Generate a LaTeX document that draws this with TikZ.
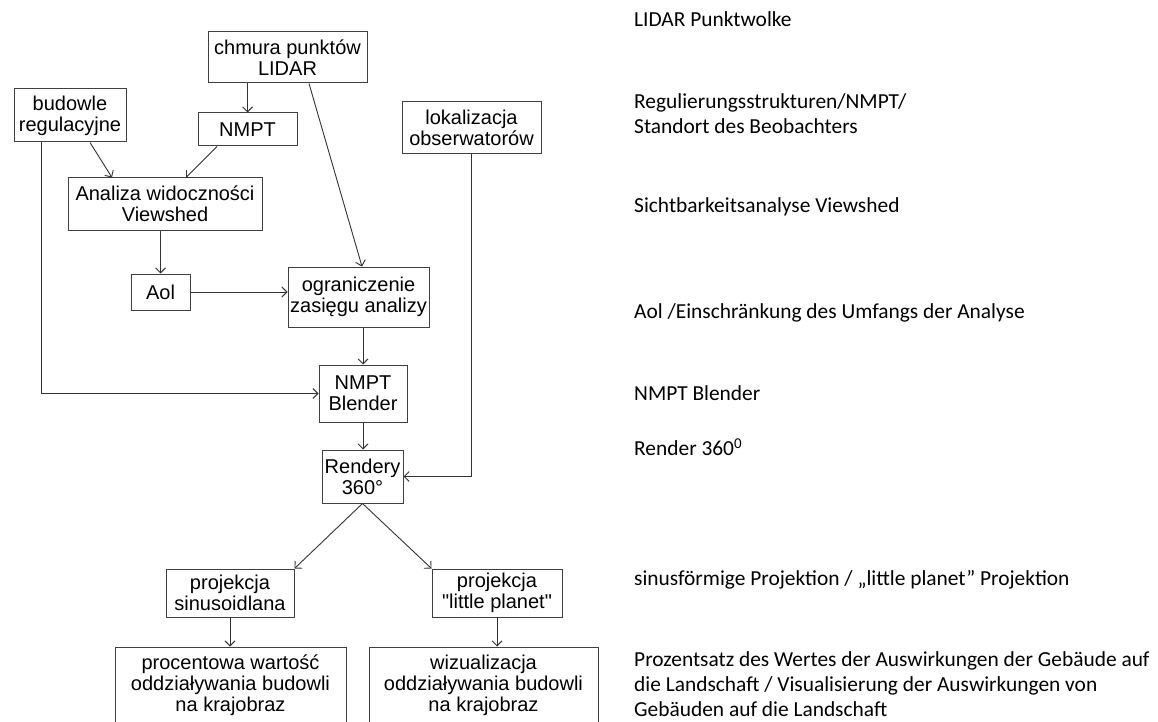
\documentclass[tikz,border=0pt]{standalone}
\usepackage{fontspec}
\setmainfont{Liberation Sans}[Ligatures=TeXOff]
\newfontfamily\calib{Carlito}
\usetikzlibrary{arrows.meta,calc}
\begin{document}
\begin{tikzpicture}[x=1pt,y=-1pt,
  box/.style={draw=black!75, line width=1pt, inner sep=0pt, align=center, fill=white,
    font=\fontsize{20}{21}\selectfont},
  conn/.style={draw=black!80, line width=0.9pt},
  arr/.style={conn, -{Straight Barb[length=5pt,width=10pt]}},
  rt/.style={anchor=west, align=left, inner sep=0pt, font=\calib\fontsize{21.4}{25.5}\selectfont}]
\clip (0,0) rectangle (1158,722);
\fill[white] (0,0) rectangle (1158,722);

% boxes
\node[box, minimum width=159pt, minimum height=51pt] (chmura) at (287.5,57.5) {chmura punktów\\LIDAR};
\node[box, minimum width=112pt, minimum height=53pt] (budowle) at (70,115.5) {budowle\\regulacyjne};
\node[box, minimum width=99pt, minimum height=33pt] (nmpt) at (247.5,129.5) {NMPT};
\node[box, minimum width=139pt, minimum height=52pt] (lok) at (471.5,128) {lokalizacja\\obserwatorów};
\node[box, minimum width=194pt, minimum height=52pt] (analiza) at (165,204) {Analiza widoczności\\Viewshed};
\node[box, minimum width=59pt, minimum height=36pt] (aoi) at (160.5,292) {Aol};
\node[box, minimum width=141pt, minimum height=60pt] (ogr) at (358.5,297) {ograniczenie\\zasięgu analizy};
\node[box, minimum width=88pt, minimum height=57pt] (blender) at (363,393.5) {NMPT\\Blender};
\node[box, minimum width=81pt, minimum height=53pt] (rendery) at (362.5,476.5) {Rendery\\360°};
\node[box, minimum width=128pt, minimum height=48pt] (sinus) at (230,593) {projekcja\\sinusoidlana};
\node[box, minimum width=130pt, minimum height=48pt] (lp) at (497,593) {projekcja\\"little planet"};
\node[box, minimum width=231pt, minimum height=77pt] (proc) at (230.5,685.5) {procentowa wartość\\oddziaływania budowli\\na krajobraz};
\node[box, minimum width=229pt, minimum height=77pt] (wiz) at (483.5,685.5) {wizualizacja\\oddziaływania budowli\\na krajobraz};

% connectors
\draw[arr] (nmpt.north |- chmura.south) -- (nmpt.north);
\draw[arr] ([xshift=20pt]budowle.south) -- ([xshift=-53pt]analiza.north);
\draw[arr] ([xshift=-30.5pt]nmpt.south) -- ([xshift=21pt]analiza.north);
\draw[arr] ([xshift=21.5pt]chmura.south) -- ([xshift=3.5pt]ogr.north);
\draw[arr] (aoi.north |- analiza.south) -- (aoi.north);
\draw[arr] (aoi.east) -- (aoi.east -| ogr.west);
\draw[arr] (blender.north |- ogr.south) -- (blender.north);
\draw[arr] (blender.south) -- (blender.south |- rendery.north);
\draw[arr] ([xshift=-29pt]budowle.south) |- (blender.west);
\draw[arr] (lok.south) |- (rendery.east);
\draw[arr] (rendery.south) -- (sinus.north east);
\draw[arr] (rendery.south) -- (lp.north west);
\draw[arr] (sinus.south) -- (sinus.south |- proc.north);
\draw[arr] (lp.south) -- (lp.south |- wiz.north);

% right-hand texts
\node[rt] (t1) at (634,19) {LIDAR Punktwolke};
\node[rt] (t2) at (634,113.5) {Regulierungsstrukturen/NMPT/\\Standort des Beobachters};
\node[rt] (t3) at (634,207) {Sichtbarkeitsanalyse Viewshed};
\node[rt] (t4) at (634,313) {Aol /Einschränkung des Umfangs der Analyse};
\node[rt] (t5) at (634,393) {NMPT Blender};
\node[rt] (t6) at (634,447) {Render 360\textsuperscript{0}};
\node[rt] (t7) at (634,580) {sinusförmige Projektion / „little planet” Projektion};
\node[rt, font=\calib\fontsize{21.4}{25}\selectfont] (t8) at (634,684) {Prozentsatz des Wertes der Auswirkungen der Gebäude auf\\die Landschaft / Visualisierung der Auswirkungen von\\Gebäuden auf die Landschaft};
\end{tikzpicture}
\end{document}
